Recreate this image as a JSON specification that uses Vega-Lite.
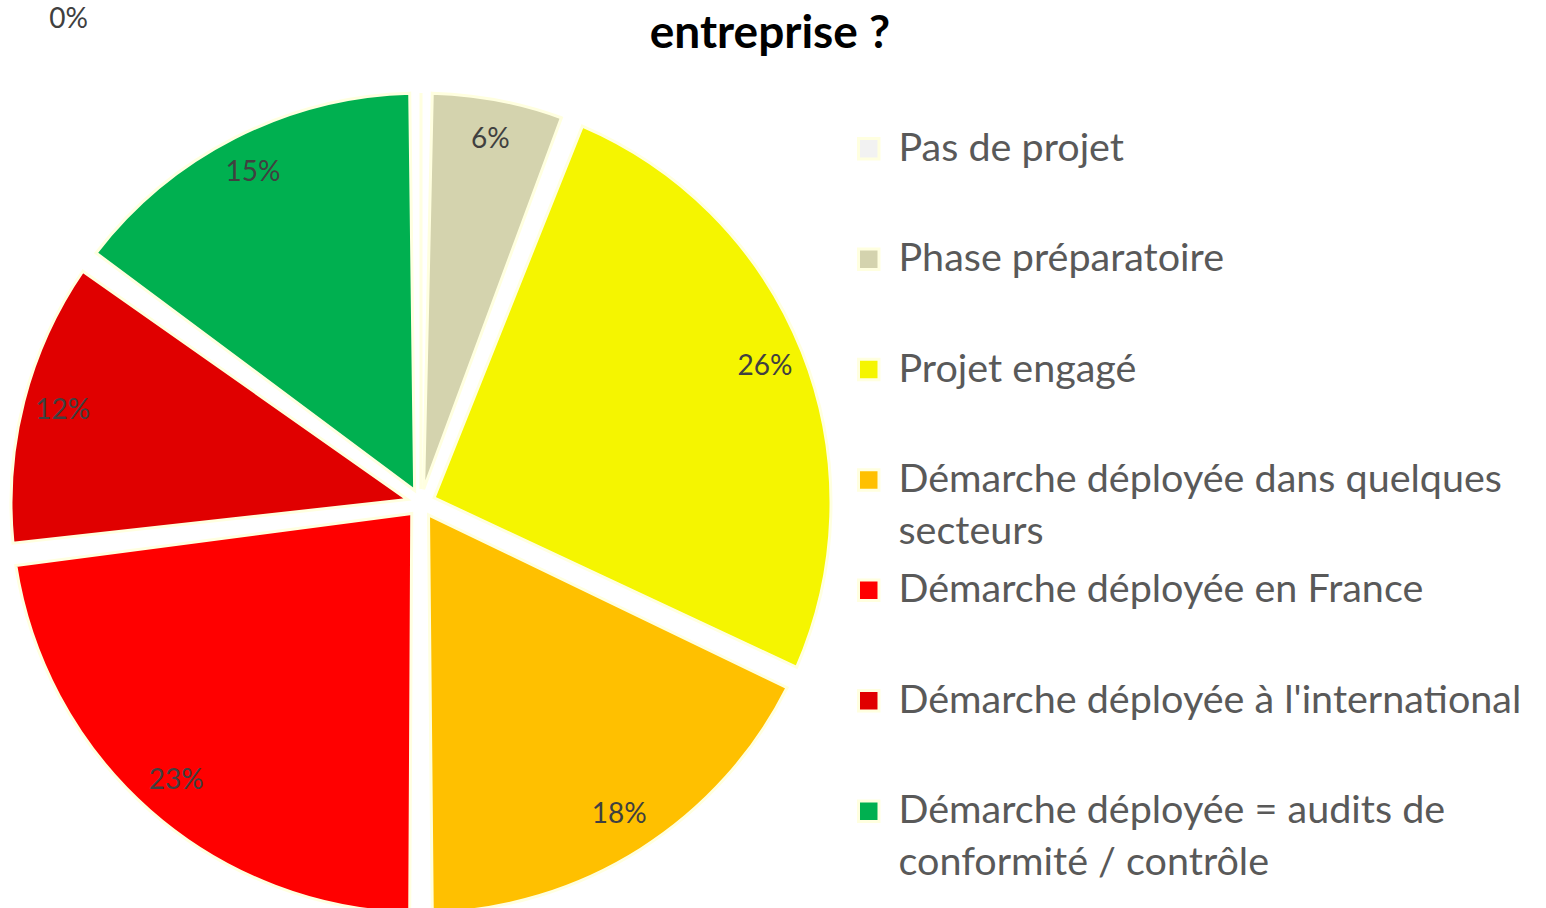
{
  "$schema": "https://vega.github.io/schema/vega-lite/v6.json",
  "autosize": {"type": "none"},
  "padding": {"left": 0, "top": 63, "right": 704, "bottom": 0},
  "width": 842,
  "height": 880,
  "background": "white",
  "config": {
    "font": "Lato",
    "view": {"stroke": null},
    "style": {"guide-label": {"lineHeight": 52}}
  },
  "title": {
    "text": "entreprise ?",
    "font": "Lato",
    "fontSize": 46,
    "fontWeight": "bold",
    "color": "#000000",
    "anchor": "middle",
    "frame": "group",
    "dx": 349,
    "dy": 60,
    "offset": 8
  },
  "data": {
    "values": [
      {"ordre": 1, "categorie": "Pas de projet", "value": 0},
      {"ordre": 2, "categorie": "Phase préparatoire", "value": 0.06},
      {"ordre": 3, "categorie": "Projet engagé", "value": 0.26},
      {"ordre": 4, "categorie": "Démarche déployée dans quelques secteurs", "value": 0.18},
      {"ordre": 5, "categorie": "Démarche déployée en France", "value": 0.23},
      {"ordre": 6, "categorie": "Démarche déployée à l'international", "value": 0.12},
      {"ordre": 7, "categorie": "Démarche déployée = audits de conformité / contrôle", "value": 0.15}
    ]
  },
  "encoding": {
    "theta": {"field": "value", "type": "quantitative", "stack": true},
    "order": {"field": "ordre", "type": "quantitative"}
  },
  "layer": [
    {
      "mark": {"type": "arc", "outerRadius": 410, "innerRadius": 14, "padAngle": 0.055, "stroke": "#FFFFE0", "strokeWidth": 3},
      "encoding": {
        "color": {
          "field": "categorie",
          "type": "nominal",
          "sort": null,
          "scale": {
            "domain": ["Pas de projet", "Phase préparatoire", "Projet engagé", "Démarche déployée dans quelques secteurs", "Démarche déployée en France", "Démarche déployée à l'international", "Démarche déployée = audits de conformité / contrôle"],
            "range": ["#F2F2F2", "#D4D3AE", "#F5F500", "#FFC000", "#FF0000", "#E00000", "#00B050"]
          },
          "legend": {
            "title": null,
            "orient": "none",
            "legendX": 849,
            "legendY": 66,
            "direction": "vertical",
            "gridAlign": "all",
            "symbolType": "square",
            "symbolSize": 420,
            "symbolStrokeColor": "#FFFFE0",
            "symbolStrokeWidth": 3,
            "labelFont": "Lato",
            "labelFontSize": 39.5,
            "labelColor": "#595959",
            "labelLimit": 700,
            "labelOffset": 10,
            "rowPadding": 17.4,
            "labelExpr": "datum.label == 'Démarche déployée dans quelques secteurs' ? ['Démarche déployée dans quelques', 'secteurs'] : datum.label == 'Démarche déployée = audits de conformité / contrôle' ? ['Démarche déployée = audits de', 'conformité / contrôle'] : datum.label"
          }
        }
      }
    },
    {
      "transform": [{"filter": "datum.value > 0"}],
      "mark": {"type": "text", "radius": 370, "fontSize": 28, "color": "#404040", "font": "Lato"},
      "encoding": {
        "text": {"field": "value", "type": "quantitative", "format": ".0%"}
      }
    },
    {
      "transform": [{"filter": "datum.value == 0"}],
      "mark": {"type": "text", "radius": 598, "thetaOffset": -0.63, "fontSize": 28, "color": "#404040", "font": "Lato"},
      "encoding": {
        "text": {"field": "value", "type": "quantitative", "format": ".0%"}
      }
    }
  ]
}
